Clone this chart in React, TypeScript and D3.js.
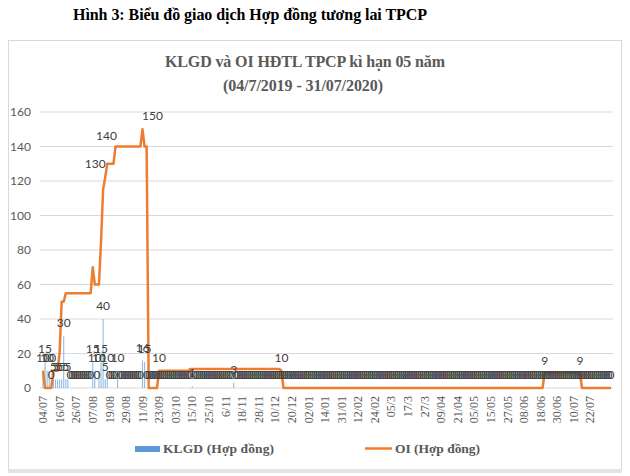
import React from 'react';
import * as d3 from 'd3';

const W = 630;
const H = 476;

const pageTitle = 'Hình 3: Biểu đồ giao dịch Hợp đồng tương lai TPCP';
const chartTitle = ['KLGD và OI HĐTL TPCP kì hạn 05 năm', '(04/7/2019 - 31/07/2020)'];
const legendNames = ['KLGD (Hợp đồng)', 'OI (Hợp đồng)'];

// trading days on the category axis, a label on every 8th one
const DAY_COUNT = 275;
const TICK_STEP = 8;
const tickLabels = [
  '04/07', '16/07', '26/07', '07/08', '19/08', '29/08', '11/09', '23/09', '03/10', '15/10',
  '25/10', '6/11', '18/11', '28/11', '10/12', '20/12', '02/01', '14/01', '31/01', '12/02',
  '24/02', '05/3', '17/3', '27/3', '09/04', '21/04', '05/05', '15/05', '27/05', '08/06',
  '18/06', '30/06', '10/07', '22/07',
];
const yTicks = [0, 20, 40, 60, 80, 100, 120, 140, 160];

// OI (open interest), as [value, number of days]
const oiRuns: [number, number][] = [
  [10, 1], [0, 4], [10, 3], [20, 1], [50, 2], [55, 13], [70, 1], [60, 3],
  [85, 1], [115, 1], [122, 1], [130, 4], [140, 13], [150, 1], [140, 2], [0, 5],
  [10, 15], [11, 44], [10, 1], [0, 126], [9, 18], [0, 15],
];

// KLGD (volume): days with a non-zero bar, [day index, contracts]; every other day is 0
const klgdDays: [number, number][] = [
  [0, 10], [1, 15], [2, 10], [3, 10], [5, 5], [6, 5], [7, 5], [8, 5], [9, 5], [10, 30],
  [11, 5], [12, 5], [24, 15], [25, 10], [27, 10], [28, 15], [29, 40], [30, 5], [31, 10],
  [36, 10], [48, 16], [49, 15], [72, 1], [92, 3],
];

// OI points that carry a data label: [day index, dx, dy]
const oiLabels: [number, number, number][] = [
  [31, -12, 0], [35, -9, -11], [48, 10, -13], [56, 0, -13], [115, 0, -13], [242, 0, -12], [259, 0, -12],
];

const oi: number[] = oiRuns.flatMap(([v, n]) => Array(n).fill(v));
const klgd: number[] = Array(DAY_COUNT).fill(0);
klgdDays.forEach(([i, v]) => { klgd[i] = v; });

const LABEL_FONT = 'Lato, "Open Sans", sans-serif';
const SERIF = '"Liberation Serif", "Times New Roman", serif';

export default function App() {
  const x = d3.scaleBand<number>()
    .domain(d3.range(DAY_COUNT))
    .range([42, 612])
    .paddingInner(0.45)
    .paddingOuter(0.2);
  const y = d3.scaleLinear().domain([0, 160]).range([388, 112]);
  const cx = (i: number) => (x(i) ?? 0) + x.bandwidth() / 2;

  const line = d3.line<number>()
    .x((_, i) => cx(i))
    .y(d => y(d));

  return (
    <svg width={W} height={H} style={{ position: 'absolute', left: 0, top: 0, background: '#fff' }}>
      <text x={250} y={20} textAnchor="middle" fontFamily={SERIF} fontWeight="bold" fontSize={16}
        textLength={354} fill="#000">{pageTitle}</text>

      {/* chart frame */}
      <rect x={8.5} y={40.5} width={613} height={429} fill="#fff" stroke="#d9d9d9" />
      <rect x={8} y={469} width={614} height={4} fill="#e3e3e3" />

      <text x={305} y={67} textAnchor="middle" fontFamily={SERIF} fontWeight="bold" fontSize={16}
        textLength={280} fill="#595959">{chartTitle[0]}</text>
      <text x={303} y={91} textAnchor="middle" fontFamily={SERIF} fontWeight="bold" fontSize={16}
        textLength={160} fill="#595959">{chartTitle[1]}</text>

      {/* grid + y axis */}
      {yTicks.map(t => (
        <g key={t}>
          <line x1={40} x2={613} y1={y(t)} y2={y(t)} stroke="#d9d9d9" strokeWidth={1} />
          <text x={31} y={y(t)} dy="0.35em" textAnchor="end" fontFamily={LABEL_FONT} fontSize={12}
            fill="#595959">{t}</text>
        </g>
      ))}

      {/* x axis labels */}
      {tickLabels.map((lab, k) => {
        const px = cx(k * TICK_STEP);
        return (
          <text key={lab} transform={`translate(${px},396) rotate(-90)`} dy="0.35em" textAnchor="end"
            fontFamily={SERIF} fontSize={12} fill="#595959">{lab}</text>
        );
      })}

      {/* KLGD bars */}
      {klgd.map((v, i) => v > 0 ? (
        <rect key={i} x={x(i)} width={x.bandwidth()} y={y(v)} height={y(0) - y(v)}
          fill="#5B9BD5" opacity={0.65} />
      ) : null)}

      {/* OI line */}
      <path d={line(oi) ?? ''} fill="none" stroke="#ED7D31" strokeWidth={2.5} strokeLinejoin="round" />

      {/* KLGD data labels */}
      {klgd.map((v, i) => (
        <text key={i} x={cx(i)} y={y(v) - 13} dy="0.35em" textAnchor="middle" fontFamily={LABEL_FONT}
          fontSize={12} fill="#404040">{v}</text>
      ))}

      {/* OI data labels */}
      {oiLabels.map(([i, dx, dy]) => (
        <text key={i} x={cx(i) + dx} y={y(oi[i]) + dy} dy="0.35em" textAnchor="middle"
          fontFamily={LABEL_FONT} fontSize={12} fill="#404040">{oi[i]}</text>
      ))}

      {/* legend */}
      <rect x={135} y={446} width={25} height={6} fill="#5B9BD5" />
      <text x={163} y={453} fontFamily={SERIF} fontWeight="bold" fontSize={13.5} fill="#595959"
        textLength={111}>{legendNames[0]}</text>
      <line x1={365} x2={392} y1={448.5} y2={448.5} stroke="#ED7D31" strokeWidth={2.5} />
      <text x={395} y={453} fontFamily={SERIF} fontWeight="bold" fontSize={13.5} fill="#595959"
        textLength={85}>{legendNames[1]}</text>
    </svg>
  );
}
